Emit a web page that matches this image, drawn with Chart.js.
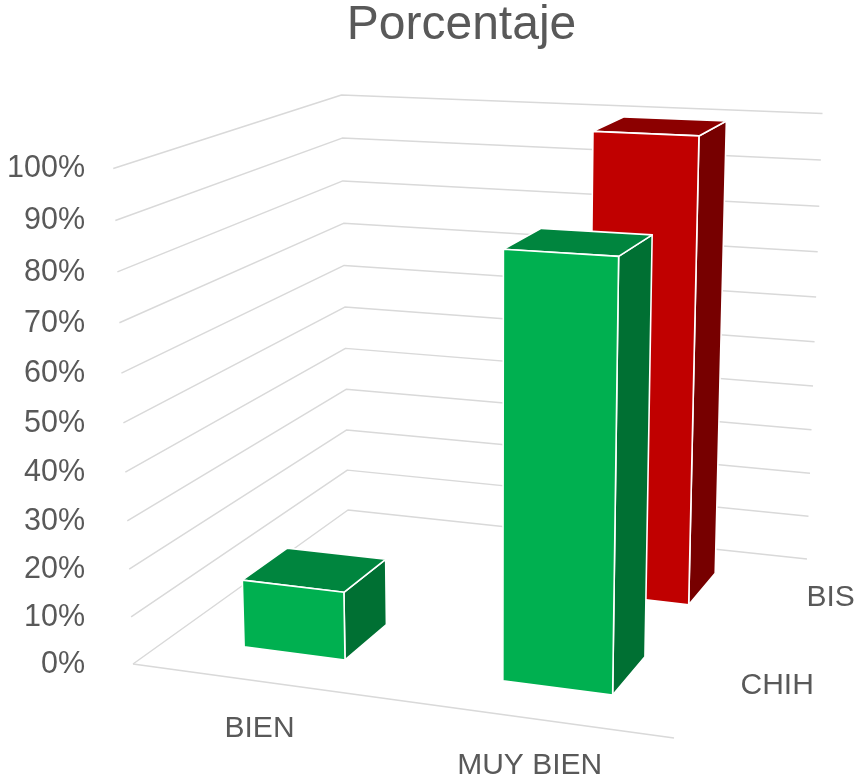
<!DOCTYPE html>
<html>
<head>
<meta charset="utf-8">
<script src="https://cdn.jsdelivr.net/npm/chart.js@4/dist/chart.umd.min.js"></script>
<style>
  html, body { margin: 0; padding: 0; background: #ffffff; }
  #wrap { width: 854px; height: 779px; }
</style>
</head>
<body>
<div id="wrap"><canvas id="c" width="854" height="779"></canvas></div>
<script>
// ---------------- data ----------------
const categories = ['BIEN', 'MUY BIEN'];
const seriesNames = ['CHIH', 'BIS'];
const chihValues = [14.3, 85.7];
const bisValues = [0, 100];
const yTickValues = [0, 10, 20, 30, 40, 50, 60, 70, 80, 90, 100];

// ---------------- style / layout constants ----------------
const TEXT_COLOR = '#595959';
const GRID_COLOR = '#D9D9D9';
const FONT_FAMILY = '"Liberation Sans", Arial, sans-serif';
const CATEGORY_PCT = 0.8, BAR_PCT = 0.5;
const seriesFaces = [
  { front: '#00B050', top: '#00853E', side: '#007033' },   // CHIH
  { front: '#C00000', top: '#8C0000', side: '#770000' }    // BIS
];
// screen corners of the 3D plot box (u = category axis, w = depth axis, v = value axis)
const FRAME = {
  A: [133, 664],  // u0 w0 v0
  D: [674, 738],  // u1 w0 v0
  C: [807, 559],  // u1 w1 v0
  B: [348, 510],  // u0 w1 v0
  E: [112, 167],  // u0 w0 v1
  F: [343, 93],   // u0 w1 v1
  G: [822, 117]   // u1 w1 v1
};

// ---------------- perspective camera fitted on the frame ----------------
function fitCamera() {
  const [x0, y0] = FRAME.A, [x1, y1] = FRAME.D, [x2, y2] = FRAME.C, [x3, y3] = FRAME.B;
  const sx = x0 - x1 + x2 - x3, sy = y0 - y1 + y2 - y3;
  const dx1 = x1 - x2, dx2 = x3 - x2, dy1 = y1 - y2, dy2 = y3 - y2;
  const den = dx1 * dy2 - dx2 * dy1;
  const g = (sx * dy2 - dx2 * sy) / den;
  const h = (dx1 * sy - sx * dy1) / den;
  const a = x1 - x0 + g * x1, b = x3 - x0 + h * x3, c = x0;
  const d = y1 - y0 + g * y1, e = y3 - y0 + h * y3, f = y0;
  // least squares for vertical column (p,q,r)
  const rows = [], rhs = [];
  [[0, 0, FRAME.E], [0, 1, FRAME.F], [1, 1, FRAME.G]].forEach(([u, w, [X, Y]]) => {
    const hx = a * u + b * w + c, hy = d * u + e * w + f, hw = g * u + h * w + 1;
    rows.push([1, 0, -X]); rhs.push(X * hw - hx);
    rows.push([0, 1, -Y]); rhs.push(Y * hw - hy);
  });
  const N = [[0,0,0],[0,0,0],[0,0,0]], bb = [0,0,0];
  rows.forEach((r, k) => {
    for (let i = 0; i < 3; i++) {
      bb[i] += r[i] * rhs[k];
      for (let j = 0; j < 3; j++) N[i][j] += r[i] * r[j];
    }
  });
  const det3 = m => m[0][0]*(m[1][1]*m[2][2]-m[1][2]*m[2][1]) - m[0][1]*(m[1][0]*m[2][2]-m[1][2]*m[2][0]) + m[0][2]*(m[1][0]*m[2][1]-m[1][1]*m[2][0]);
  const D0 = det3(N);
  const sol = [0,1,2].map(col => det3(N.map((row, i) => row.map((v, j) => j === col ? bb[i] : v))) / D0);
  const [p, q, r] = sol;
  return { a, b, c, d, e, f, g, h, p, q, r };
}
const CAM = fitCamera();
function P(u, w, v) {
  const X = CAM.a * u + CAM.b * w + CAM.p * v + CAM.c;
  const Y = CAM.d * u + CAM.e * w + CAM.q * v + CAM.f;
  const W = CAM.g * u + CAM.h * w + CAM.r * v + 1;
  return [X / W, Y / W];
}
const WARP = 1 + CAM.r;

// ---------------- value scale following the perspective of the front edge ----------------
class PerspectiveScale extends Chart.LinearScale {
  _k() { const k = this.options.warp; return (typeof k === 'number' && isFinite(k)) ? k : WARP; }
  getPixelForValue(value) {
    if (value === null || value === undefined) return NaN;
    const t = (value - this.min) / (this.max - this.min);
    const k = this._k();
    return this.getPixelForDecimal(k * t / (1 + (k - 1) * t));
  }
  getValueForPixel(pixel) {
    const s = this.getDecimalForPixel(pixel);
    const k = this._k();
    const t = s / (k - (k - 1) * s);
    return this.min + t * (this.max - this.min);
  }
}
PerspectiveScale.id = 'perspective';
PerspectiveScale.defaults = Chart.LinearScale.defaults;
Chart.register(PerspectiveScale);

// ---------------- 3D drawing plugin ----------------
function poly(ctx, pts, fill, stroke, lw) {
  ctx.beginPath();
  pts.forEach(([x, y], i) => i ? ctx.lineTo(x, y) : ctx.moveTo(x, y));
  ctx.closePath();
  if (fill) { ctx.fillStyle = fill; ctx.fill(); }
  if (stroke) { ctx.strokeStyle = stroke; ctx.lineWidth = lw; ctx.lineJoin = 'round'; ctx.stroke(); }
}
function polyline(ctx, pts) {
  ctx.beginPath();
  pts.forEach(([x, y], i) => i ? ctx.lineTo(x, y) : ctx.moveTo(x, y));
  ctx.stroke();
}

const perspective3d = {
  id: 'perspective3d',
  beforeDatasetsDraw(chart) {
    const ctx = chart.ctx, area = chart.chartArea;
    const xs = chart.scales.x, ys = chart.scales.y;
    const vOf = val => (val - ys.min) / (ys.max - ys.min);
    const n = chart.data.datasets.length;
    ctx.save();
    // walls gridlines
    ctx.strokeStyle = GRID_COLOR; ctx.lineWidth = 1.5; ctx.lineJoin = 'round';
    ys.ticks.forEach(t => {
      const v = vOf(t.value);
      polyline(ctx, [P(0, 0, v), P(0, 1, v), P(1, 1, v)]);
    });
    // floor front edge (category axis line)
    polyline(ctx, [P(0, 0, 0), P(1, 0, 0)]);

    // bars, from back row to front row, left to right
    for (let i = n - 1; i >= 0; i--) {
      const meta = chart.getDatasetMeta(i);
      const faces = seriesFaces[i % seriesFaces.length];
      const slot = 1 / n;
      const wc = (i + 0.5) * slot;
      const wd = slot * CATEGORY_PCT * BAR_PCT;
      const w0 = wc - wd / 2, w1 = wc + wd / 2;
      meta.data.forEach(el => {
        const u0 = (el.x - el.width / 2 - area.left) / area.width;
        const u1 = (el.x + el.width / 2 - area.left) / area.width;
        const vTop = vOf(ys.getValueForPixel(el.y));
        const vBase = vOf(ys.getValueForPixel(el.base));
        if (Math.abs(vTop - vBase) < 1e-4) return;
        const lo = Math.min(vTop, vBase), hi = Math.max(vTop, vBase);
        const front = [P(u0, w0, lo), P(u1, w0, lo), P(u1, w0, hi), P(u0, w0, hi)];
        const top = [P(u0, w0, hi), P(u1, w0, hi), P(u1, w1, hi), P(u0, w1, hi)];
        const side = [P(u1, w0, lo), P(u1, w1, lo), P(u1, w1, hi), P(u1, w0, hi)];
        poly(ctx, side, faces.side, '#ffffff', 1.6);
        poly(ctx, top, faces.top, '#ffffff', 1.6);
        poly(ctx, front, faces.front, '#ffffff', 1.6);
      });
    }

    // category labels along the front floor edge
    ctx.fillStyle = TEXT_COLOR;
    ctx.font = '30px ' + FONT_FAMILY;
    ctx.textAlign = 'center';
    ctx.textBaseline = 'middle';
    chart.data.labels.forEach((lab, j) => {
      const u = (xs.getPixelForValue(j) - area.left) / area.width;
      const [x, y] = P(u, 0, 0);
      ctx.fillText(lab, x, y + 47);
    });
    // series labels along the right floor edge (depth axis)
    ctx.textAlign = 'left';
    chart.data.datasets.forEach((ds, i) => {
      const w = (i + 0.5) / n;
      const [x, y] = P(1, w, 0);
      ctx.fillText(ds.label, x + 28, y);
    });
    ctx.restore();
    return false; // the plugin draws the bars itself
  }
};

// ---------------- chart ----------------
new Chart(document.getElementById('c'), {
  type: 'bar',
  data: {
    labels: categories,
    datasets: [
      { label: seriesNames[0], data: chihValues, backgroundColor: seriesFaces[0].front },
      { label: seriesNames[1], data: bisValues, backgroundColor: seriesFaces[1].front }
    ]
  },
  options: {
    responsive: false,
    animation: false,
    devicePixelRatio: 1,
    layout: { padding: { left: 5, right: 18, top: 0, bottom: 114 } },
    datasets: { bar: { grouped: false, categoryPercentage: CATEGORY_PCT, barPercentage: BAR_PCT } },
    plugins: {
      legend: { display: false },
      tooltip: { enabled: false },
      title: {
        display: true,
        text: 'Porcentaje',
        fullSize: false,
        color: TEXT_COLOR,
        font: { family: FONT_FAMILY, size: 48, weight: 'normal', lineHeight: 1 },
        padding: { top: 2, bottom: 119 }
      }
    },
    scales: {
      x: { type: 'category', display: false },
      y: {
        type: 'perspective',
        warp: WARP,
        min: yTickValues[0],
        max: yTickValues[yTickValues.length - 1],
        afterBuildTicks: scale => { scale.ticks = yTickValues.map(v => ({ value: v })); },
        grid: { display: false, drawTicks: false },
        border: { display: false },
        ticks: {
          color: TEXT_COLOR,
          padding: 2,
          font: { family: FONT_FAMILY, size: 30.5 },
          callback: v => v + '%'
        }
      }
    }
  },
  plugins: [perspective3d]
});
</script>
</body>
</html>
